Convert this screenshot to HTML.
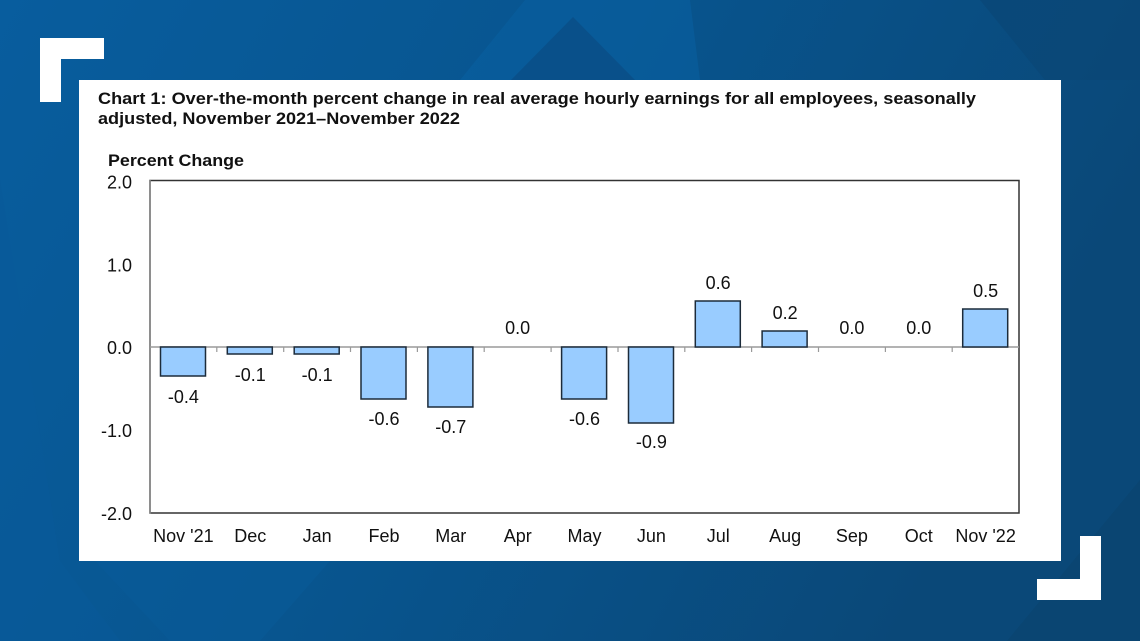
<!DOCTYPE html>
<html>
<head>
<meta charset="utf-8">
<style>
  html,body{margin:0;padding:0;width:1140px;height:641px;overflow:hidden;background:#08558f;}
  svg{display:block;}
  text{font-family:"Liberation Sans", Arial, sans-serif;}
</style>
</head>
<body>
<svg width="1140" height="641" viewBox="0 0 1140 641" xmlns="http://www.w3.org/2000/svg">
  <defs>
    <linearGradient id="bg" x1="0" y1="0" x2="1" y2="0.3">
      <stop offset="0" stop-color="#085d9e"/>
      <stop offset="0.5" stop-color="#08558f"/>
      <stop offset="1" stop-color="#0a4878"/>
    </linearGradient>
  </defs>
  <rect x="0" y="0" width="1140" height="641" fill="url(#bg)"/>
  <!-- subtle background shapes -->
  <polygon points="460,80 525,0 690,0 700,80" fill="#0a60a2" opacity="0.55"/>
  <polygon points="511,80 573,17 635,80" fill="#0a4e86" opacity="0.8"/>
  <polygon points="980,0 1140,0 1140,80 1045,80" fill="#0a4674" opacity="0.6"/>
  <polygon points="1140,480 1140,641 1007,641" fill="#0a446f" opacity="0.7"/>
  <polygon points="0,180 0,641 120,641 60,561" fill="#075a99" opacity="0.5"/>
  <polygon points="95,561 330,561 260,641 170,641" fill="#0a5d9c" opacity="0.4"/>

  <!-- corner brackets -->
  <rect x="40" y="38" width="64" height="21" fill="#ffffff"/>
  <rect x="40" y="38" width="21" height="64" fill="#ffffff"/>
  <rect x="1080" y="536" width="21" height="64" fill="#ffffff"/>
  <rect x="1037" y="579" width="64" height="21" fill="#ffffff"/>

  <!-- white panel -->
  <rect x="79" y="80" width="982" height="481" fill="#ffffff"/>

  <!-- title -->
  <text x="98" y="104" font-size="16.5" font-weight="bold" fill="#111" textLength="878" lengthAdjust="spacingAndGlyphs">Chart 1: Over-the-month percent change in real average hourly earnings for all employees, seasonally</text>
  <text x="98" y="124" font-size="16.5" font-weight="bold" fill="#111" textLength="362" lengthAdjust="spacingAndGlyphs">adjusted, November 2021–November 2022</text>
  <text x="108" y="166" font-size="17" font-weight="bold" fill="#111" textLength="136" lengthAdjust="spacingAndGlyphs">Percent Change</text>

  <!-- plot frame -->
  <rect x="150" y="180.5" width="869" height="332.5" fill="none" stroke="#333" stroke-width="1.5"/>
  <line x1="150" y1="180" x2="150" y2="513.5" stroke="#8a8a8a" stroke-width="1.5"/>

  <!-- y labels -->
  <g font-size="18" fill="#111" text-anchor="end">
    <text x="132" y="188.5">2.0</text>
    <text x="132" y="271.5">1.0</text>
    <text x="132" y="354">0.0</text>
    <text x="132" y="437">-1.0</text>
    <text x="132" y="520">-2.0</text>
  </g>

  <!-- zero line & ticks -->
  <line x1="150" y1="347" x2="1019" y2="347" stroke="#9a9a9a" stroke-width="1.5"/>
  <g stroke="#9a9a9a" stroke-width="1.2">
    <line x1="216.8" y1="347" x2="216.8" y2="352"/>
    <line x1="283.7" y1="347" x2="283.7" y2="352"/>
    <line x1="350.5" y1="347" x2="350.5" y2="352"/>
    <line x1="417.4" y1="347" x2="417.4" y2="352"/>
    <line x1="484.2" y1="347" x2="484.2" y2="352"/>
    <line x1="551.1" y1="347" x2="551.1" y2="352"/>
    <line x1="618" y1="347" x2="618" y2="352"/>
    <line x1="684.8" y1="347" x2="684.8" y2="352"/>
    <line x1="751.6" y1="347" x2="751.6" y2="352"/>
    <line x1="818.5" y1="347" x2="818.5" y2="352"/>
    <line x1="885.4" y1="347" x2="885.4" y2="352"/>
    <line x1="952.2" y1="347" x2="952.2" y2="352"/>
  </g>

  <!-- bars -->
  <g fill="#99ccff" stroke="#1c2b3a" stroke-width="1.5">
    <rect x="160.5" y="347" width="45" height="29"/>
    <rect x="227.3" y="347" width="45" height="7"/>
    <rect x="294.2" y="347" width="45" height="7"/>
    <rect x="361" y="347" width="45" height="52"/>
    <rect x="427.9" y="347" width="45" height="60"/>
    <rect x="561.6" y="347" width="45" height="52"/>
    <rect x="628.5" y="347" width="45" height="76"/>
    <rect x="695.3" y="301" width="45" height="46"/>
    <rect x="762.1" y="331" width="45" height="16"/>
    <rect x="962.7" y="309" width="45" height="38"/>
  </g>

  <!-- value labels -->
  <g font-size="18" fill="#111" text-anchor="middle">
    <text x="183.4" y="403">-0.4</text>
    <text x="250.3" y="381">-0.1</text>
    <text x="317.1" y="381">-0.1</text>
    <text x="384" y="425">-0.6</text>
    <text x="450.8" y="433">-0.7</text>
    <text x="517.7" y="334">0.0</text>
    <text x="584.5" y="425">-0.6</text>
    <text x="651.4" y="448">-0.9</text>
    <text x="718.2" y="289">0.6</text>
    <text x="785.1" y="319">0.2</text>
    <text x="851.9" y="334">0.0</text>
    <text x="918.8" y="334">0.0</text>
    <text x="985.6" y="297">0.5</text>
  </g>

  <!-- x labels -->
  <g font-size="18" fill="#111" text-anchor="middle">
    <text x="183.4" y="542">Nov '21</text>
    <text x="250.3" y="542">Dec</text>
    <text x="317.1" y="542">Jan</text>
    <text x="384" y="542">Feb</text>
    <text x="450.8" y="542">Mar</text>
    <text x="517.7" y="542">Apr</text>
    <text x="584.5" y="542">May</text>
    <text x="651.4" y="542">Jun</text>
    <text x="718.2" y="542">Jul</text>
    <text x="785.1" y="542">Aug</text>
    <text x="851.9" y="542">Sep</text>
    <text x="918.8" y="542">Oct</text>
    <text x="985.6" y="542">Nov '22</text>
  </g>
</svg>
</body>
</html>
